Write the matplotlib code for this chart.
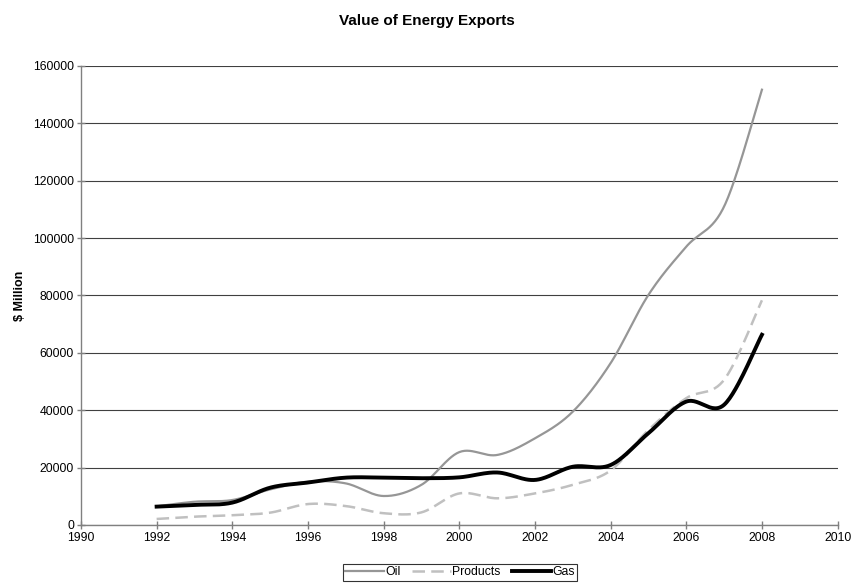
import numpy as np
import matplotlib.pyplot as plt

plt.rcParams['font.family'] = ['Liberation Sans', 'DejaVu Sans']

years = [1992, 1993, 1994, 1995, 1996, 1997, 1998, 1999, 2000,
         2001, 2002, 2003, 2004, 2005, 2006, 2007, 2008]
oil = [6500, 8100, 8700, 12400, 15100, 14500, 10100, 14000, 25400,
       24400, 30200, 39500, 56400, 80200, 97000, 111000, 151700]
products = [2100, 2900, 3400, 4300, 7300, 6600, 4100, 4400, 11000,
            9300, 11000, 14000, 19000, 33100, 44200, 50600, 78300]
gas = [6400, 7000, 7800, 13000, 14800, 16500, 16500, 16300, 16600,
       18300, 15700, 20300, 20900, 32000, 43000, 41900, 66300]


def smooth(x, y, n=30):
    # catmull-rom style smoothing, like spreadsheet "smoothed line"
    x = np.asarray(x, float)
    y = np.asarray(y, float)
    px = np.concatenate([[x[0]], x, [x[-1]]])
    py = np.concatenate([[y[0]], y, [y[-1]]])
    xs, ys = [], []
    for i in range(1, len(px) - 2):
        p0 = np.array([px[i], py[i]])
        p3 = np.array([px[i + 1], py[i + 1]])
        p1 = p0 + (np.array([px[i + 1], py[i + 1]]) - np.array([px[i - 1], py[i - 1]])) / 6
        p2 = p3 - (np.array([px[i + 2], py[i + 2]]) - np.array([px[i], py[i]])) / 6
        t = np.linspace(0, 1, n)[:, None]
        b = ((1 - t) ** 3) * p0 + 3 * ((1 - t) ** 2) * t * p1 + 3 * (1 - t) * t ** 2 * p2 + t ** 3 * p3
        xs.extend(b[:, 0])
        ys.extend(b[:, 1])
    return xs, ys


fig = plt.figure(figsize=(8.54, 5.83), dpi=100)
ax = fig.add_axes([0.0948, 0.0995, 0.886, 0.7875])

ax.plot(*smooth(years, oil), color='#969696', lw=1.6, label='Oil')
ax.plot(*smooth(years, products), color='#c0c0c0', lw=1.8,
        linestyle=(0, (5, 2.5)), label='Products')
ax.plot(*smooth(years, gas), color='black', lw=2.8, label='Gas')

ax.set_xlim(1990, 2010)
ax.set_ylim(0, 160000)
ax.set_xticks(range(1990, 2011, 2))
ax.set_yticks(range(0, 160001, 20000))
ax.yaxis.grid(True, color='#404040', lw=0.8)
ax.set_axisbelow(True)

for s in ['top', 'right']:
    ax.spines[s].set_visible(False)
for s in ['left', 'bottom']:
    ax.spines[s].set_color('#808080')
    ax.spines[s].set_linewidth(1.0)
ax.tick_params(axis='both', labelsize=8.8, color='#808080', length=6, width=1,
               direction='inout', pad=2)

ax.set_ylabel('\\$ Million', fontsize=9, fontweight='bold', labelpad=5)
fig.text(0.5, 0.964, 'Value of Energy Exports', fontsize=11, fontweight='bold',
         ha='center', va='center')

leg = fig.legend(loc='upper center', bbox_to_anchor=(0.5386, 0.0326), ncol=3, fontsize=8.8,
                 frameon=True, fancybox=False, edgecolor='black', handlelength=3.2,
                 handletextpad=0.1, columnspacing=0.9, borderpad=0.2, borderaxespad=0)
leg.get_frame().set_linewidth(0.8)

fig.savefig('out.png', dpi=100)
